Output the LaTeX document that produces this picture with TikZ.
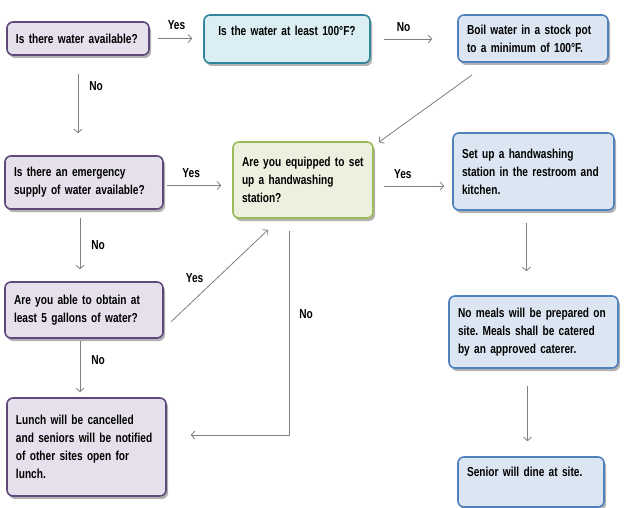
\documentclass[tikz,border=0pt]{standalone}
\usepackage{fontspec}
\setmainfont{Liberation Sans}[FakeStretch=0.78]
\usetikzlibrary{arrows.meta,shadows}
\frenchspacing

\definecolor{purpfill}{HTML}{E5E0EC}
\definecolor{purpline}{HTML}{5F497A}
\definecolor{cyanfill}{HTML}{DAEEF3}
\definecolor{cyanline}{HTML}{31859C}
\definecolor{bluefill}{HTML}{DCE6F2}
\definecolor{blueline}{HTML}{4F81BD}
\definecolor{grnfill}{HTML}{EBF1DE}
\definecolor{grnline}{HTML}{9BBB59}
\definecolor{arrgray}{HTML}{7F7F7F}

\begin{document}
\begin{tikzpicture}[x=1pt, y=-1pt,
box/.style = {draw, rounded corners=6pt, line width=1.6pt, inner xsep=9pt, align=left,
  font=\fontsize{13}{18}\selectfont\bfseries,
  drop shadow={shadow xshift=2pt, shadow yshift=-3pt, fill=black!55, opacity=.55}},
purpbox/.style = {box, fill=purpfill, draw=purpline},
cyanbox/.style = {box, fill=cyanfill, draw=cyanline},
bluebox/.style = {box, fill=bluefill, draw=blueline},
grnbox/.style = {box, fill=grnfill, draw=grnline},
arr/.style = {draw=arrgray, line width=.8pt, -{Straight Barb[length=3.5pt,width=8pt]}},
lbl/.style = {font=\fontsize{13}{15}\selectfont\bfseries, inner sep=2pt}
]
\useasboundingbox (0,0) rectangle (626,508);

% questions and actions
\node[purpbox, text width=124pt, minimum height=33pt] (water) at (78,38.5) {Is there water available?};
\node[cyanbox, text width=148pt, minimum height=48pt, align=center, text height=10pt, text depth=17pt] (temp) at (287,39) {Is the water at least 100°F?};
\node[bluebox, text width=132pt, minimum height=47pt] (boil) at (533,38.5) {Boil water in a stock pot\\to a minimum of 100°F.};
\node[purpbox, text width=140pt, minimum height=53pt] (emerg) at (84,182.5) {Is there an emergency\\supply of water available?};
\node[grnbox, inner xsep=6pt, text width=128pt, minimum height=76pt] (equip) at (303,180) {\hspace*{3pt}Are you equipped to set\\\hspace*{3pt}up a handwashing\\\hspace*{3pt}station?};
\node[bluebox, text width=143pt, minimum height=77pt] (setup) at (533.5,171.5) {Set up a handwashing\\station in the restroom and\\kitchen.};
\node[purpbox, text width=140pt, minimum height=56pt] (obtain) at (84,310) {Are you able to obtain at\\least 5 gallons of water?};
\node[purpbox, text width=141pt, minimum height=98pt] (lunch) at (86.5,447) {Lunch will be cancelled\\and seniors will be notified\\of other sites open for\\lunch.};
\node[bluebox, text width=151pt, minimum height=72pt] (meals) at (533.5,332) {No meals will be prepared on\\site. Meals shall be catered\\by an approved caterer.};
\node[bluebox, text width=128pt, minimum height=50pt, text height=10pt, text depth=21pt] (dine) at (531,482) {Senior will dine at site.};

% connectors
\draw[arr, shorten <=8pt, shorten >=11pt] (water.east) -- node[lbl, above=6pt]{Yes} (water.east -| temp.west);
\draw[arr, shorten <=13pt, shorten >=25pt] (temp.east) -- node[lbl, pos=.38, above=5pt]{No} (temp.east -| boil.west);
\draw[arr, shorten <=18pt, shorten >=22pt] (water.south) -- node[lbl, pos=.3, right=9pt]{No} (water.south |- emerg.north);
\draw[arr, shorten <=3pt, shorten >=11pt] ([yshift=-3pt]emerg.east) -- node[lbl, pos=.4, above=5pt]{Yes} ([yshift=-3pt]emerg.east -| equip.west);
\draw[arr, shorten <=10pt, shorten >=8pt] ([yshift=-6pt]equip.east) -- node[lbl, pos=.37, above=5pt]{Yes} ([yshift=-6pt]equip.east -| setup.west);
\draw[arr] ([xshift=15pt,yshift=-12pt]boil.south west) -- ([xshift=5pt,yshift=-1pt]equip.north east);
\draw[arr, shorten <=8pt, shorten >=12pt] ([xshift=-4pt]emerg.south) -- node[lbl, right=9pt]{No} ([xshift=-4pt]emerg.south |- obtain.north);
\draw[arr] ([xshift=7pt,yshift=-12pt]obtain.east) -- node[lbl, pos=.38, above left=2pt]{Yes} ([xshift=-35pt,yshift=-11pt]equip.south);
\draw[arr, shorten <=2pt, shorten >=5pt] ([xshift=-4pt]obtain.south) -- node[lbl, pos=.37, right=9pt]{No} ([xshift=-4pt]obtain.south |- lunch.north);
\draw[arr, shorten <=12pt, shorten >=24pt] ([xshift=-14pt]equip.south) |- node[lbl, pos=.22, right=8pt]{No} ([yshift=12pt]lunch.east);
\draw[arr, shorten <=12pt, shorten >=24pt] ([xshift=-7pt]setup.south) -- ([xshift=-7pt]setup.south |- meals.north);
\draw[arr, shorten <=17pt, shorten >=15pt] ([xshift=-6pt]meals.south) -- ([xshift=-6pt]meals.south |- dine.north);
\end{tikzpicture}
\end{document}
